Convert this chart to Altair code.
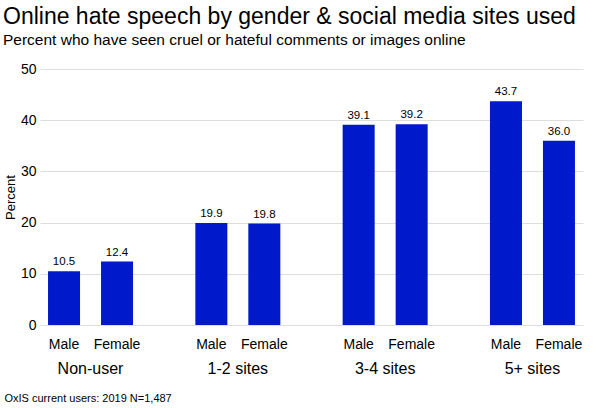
import altair as alt
import pandas as pd

groups = ["Non-user", "1-2 sites", "3-4 sites", "5+ sites"]
genders = ["Male", "Female"]
male_vals = [10.5, 19.9, 39.1, 43.7]
female_vals = [12.4, 19.8, 39.2, 36.0]

rows = []
for g, m, f in zip(groups, male_vals, female_vals):
    rows.append({"group": g, "gender": "Male", "value": m})
    rows.append({"group": g, "gender": "Female", "value": f})
df = pd.DataFrame(rows)

FONT = "Liberation Sans"
BAR = "#001acb"

x_enc = alt.X(
    "group:N",
    sort=groups,
    scale=alt.Scale(paddingInner=0.423, paddingOuter=0.0545),
    axis=alt.Axis(
        title="OxIS current users: 2019 N=1,487",
        titleX=-36, titleY=73, titleAlign="left", titleAnchor="start",
        titleBaseline="middle", titleFontSize=11, titleFontWeight="normal",
        titleFont=FONT, titleColor="#000000",
        labelFontSize=16, labelFont=FONT, labelColor="#000000",
        labelPadding=35, labelAngle=0, domain=False, ticks=False, grid=False,
    ),
)
xo_enc = alt.XOffset("gender:N", sort=genders,
                     scale=alt.Scale(paddingInner=0.396, paddingOuter=0))

base = alt.Chart(df).encode(x=x_enc, xOffset=xo_enc)

bars = base.mark_bar(color=BAR).encode(
    y=alt.Y(
        "value:Q",
        scale=alt.Scale(domain=[0, 50], nice=False),
        axis=alt.Axis(
            title="Percent", values=[0, 10, 20, 30, 40, 50],
            titleFontSize=13, titleFont=FONT, titleFontWeight="normal",
            titleColor="#000000", titlePadding=3,
            labelFontSize=14, labelFont=FONT, labelColor="#000000",
            labelPadding=4, domain=False, ticks=False,
            gridColor="#dddddd", gridWidth=1,
        ),
    )
)

vals = base.mark_text(baseline="bottom", dy=-4, fontSize=11.5, font=FONT,
                      color="#000000").encode(
    y="value:Q", text=alt.Text("value:Q", format=".1f")
)

gl = base.mark_text(baseline="middle", dy=20, fontSize=14, font=FONT,
                    color="#000000").encode(
    y=alt.datum(0), text="gender:N"
)

chart = alt.layer(bars, vals, gl).properties(
    width=543, height=256,
    autosize=alt.AutoSizeParams(type="none"),
    padding={"left": 40, "top": 69, "right": 17, "bottom": 83},
    title=alt.TitleParams(
        text="Online hate speech by gender & social media sites used",
        subtitle="Percent who have seen cruel or hateful comments or images online",
        anchor="start", frame="group", dx=-37, offset=14,
        font=FONT, fontSize=23, fontWeight="normal", color="#000000",
        subtitleFont=FONT, subtitleFontSize=15.5, subtitleColor="#000000",
        subtitlePadding=4,
    ),
).configure_view(stroke=None)

chart.save("out.html", embed_options={"renderer": "svg", "actions": False})
